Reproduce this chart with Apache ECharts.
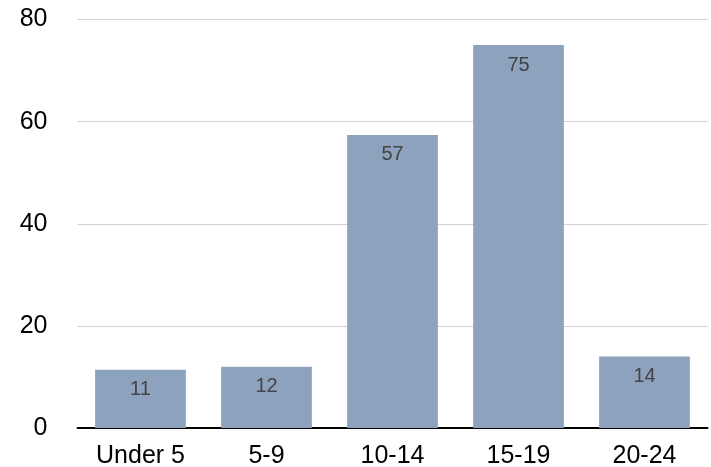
<!DOCTYPE html>
<html>
<head>
<meta charset="utf-8">
<script src="https://cdn.jsdelivr.net/npm/echarts@6/dist/echarts.min.js"></script>
<style>html,body{margin:0;padding:0;background:#fff}#c{width:711px;height:467px}</style>
</head>
<body>
<div id="c"></div>
<script>
const categories = ["Under 5", "5-9", "10-14", "15-19", "20-24"];
const values = [11.4, 12, 57.4, 75, 14];
const yTicks = [0, 20, 40, 60, 80];

const chart = echarts.init(document.getElementById('c'), null, {renderer: 'canvas'});
chart.setOption({
  animation: false,
  backgroundColor: '#ffffff',
  grid: {left: 77.5, right: 3.5, top: 19.5, bottom: 39, containLabel: false, outerBoundsMode: 'none'},
  xAxis: {
    type: 'category',
    data: categories,
    axisLine: {show: true, lineStyle: {color: '#000', width: 2}},
    axisTick: {show: false},
    axisLabel: {color: '#000', fontSize: 25, fontFamily: 'Liberation Sans, Arial, sans-serif', margin: 16}
  },
  yAxis: {
    type: 'value',
    min: yTicks[0],
    max: yTicks[yTicks.length - 1],
    interval: 20,
    axisLine: {show: false},
    axisTick: {show: false},
    splitLine: {lineStyle: {color: '#d2d2d2', width: 1}},
    axisLabel: {color: '#000', fontSize: 25, fontFamily: 'Liberation Sans, Arial, sans-serif', margin: 30}
  },
  series: [{
    type: 'bar',
    data: values,
    barCategoryGap: '28%',
    itemStyle: {color: '#8ca2bd'},
    label: {
      show: true,
      position: 'insideTop',
      distance: 10,
      color: '#444',
      fontSize: 20,
      fontFamily: 'Liberation Sans, Arial, sans-serif',
      formatter: p => Math.round(p.value)
    }
  }]
});
</script>
</body>
</html>
